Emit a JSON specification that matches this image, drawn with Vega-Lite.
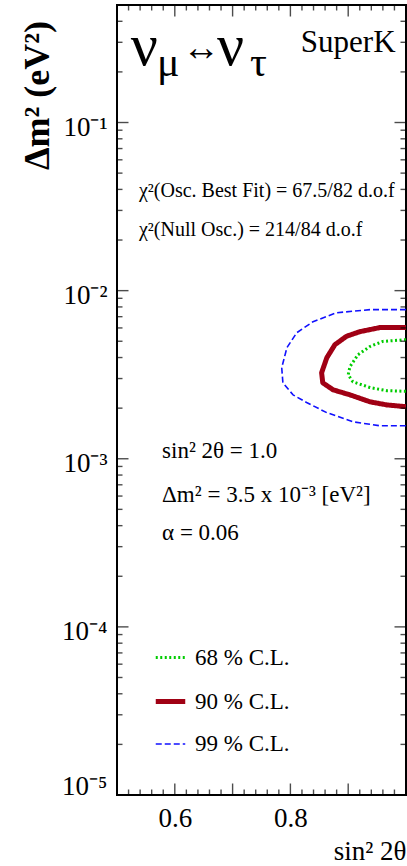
{
  "$schema": "https://vega.github.io/schema/vega-lite/v6.json",
  "width": 289,
  "height": 790,
  "autosize": {"type": "none"},
  "padding": {"left": 117, "top": 5, "right": 1, "bottom": 71},
  "config": {
    "view": {"stroke": "black", "strokeWidth": 2}
  },
  "datasets": {
    "xt": [
      {"s": 0.6, "kind": "major"}, {"s": 0.7, "kind": "major"}, {"s": 0.8, "kind": "major"}, {"s": 0.9, "kind": "major"},
      {"s": 0.52, "kind": "minor"}, {"s": 0.54, "kind": "minor"}, {"s": 0.56, "kind": "minor"}, {"s": 0.58, "kind": "minor"},
      {"s": 0.62, "kind": "minor"}, {"s": 0.64, "kind": "minor"}, {"s": 0.66, "kind": "minor"}, {"s": 0.68, "kind": "minor"},
      {"s": 0.72, "kind": "minor"}, {"s": 0.74, "kind": "minor"}, {"s": 0.76, "kind": "minor"}, {"s": 0.78, "kind": "minor"},
      {"s": 0.82, "kind": "minor"}, {"s": 0.84, "kind": "minor"}, {"s": 0.86, "kind": "minor"}, {"s": 0.88, "kind": "minor"},
      {"s": 0.92, "kind": "minor"}, {"s": 0.94, "kind": "minor"}, {"s": 0.96, "kind": "minor"}, {"s": 0.98, "kind": "minor"}
    ],
    "yt": [
      {"dm": 0.0001, "kind": "major"}, {"dm": 0.001, "kind": "major"}, {"dm": 0.01, "kind": "major"}, {"dm": 0.1, "kind": "major"},
      {"dm": 0.00002, "kind": "minor"}, {"dm": 0.00003, "kind": "minor"}, {"dm": 0.00004, "kind": "minor"}, {"dm": 0.00005, "kind": "minor"},
      {"dm": 0.00006, "kind": "minor"}, {"dm": 0.00007, "kind": "minor"}, {"dm": 0.00008, "kind": "minor"}, {"dm": 0.00009, "kind": "minor"},
      {"dm": 0.0002, "kind": "minor"}, {"dm": 0.0003, "kind": "minor"}, {"dm": 0.0004, "kind": "minor"}, {"dm": 0.0005, "kind": "minor"},
      {"dm": 0.0006, "kind": "minor"}, {"dm": 0.0007, "kind": "minor"}, {"dm": 0.0008, "kind": "minor"}, {"dm": 0.0009, "kind": "minor"},
      {"dm": 0.002, "kind": "minor"}, {"dm": 0.003, "kind": "minor"}, {"dm": 0.004, "kind": "minor"}, {"dm": 0.005, "kind": "minor"},
      {"dm": 0.006, "kind": "minor"}, {"dm": 0.007, "kind": "minor"}, {"dm": 0.008, "kind": "minor"}, {"dm": 0.009, "kind": "minor"},
      {"dm": 0.02, "kind": "minor"}, {"dm": 0.03, "kind": "minor"}, {"dm": 0.04, "kind": "minor"}, {"dm": 0.05, "kind": "minor"},
      {"dm": 0.06, "kind": "minor"}, {"dm": 0.07, "kind": "minor"}, {"dm": 0.08, "kind": "minor"}, {"dm": 0.09, "kind": "minor"},
      {"dm": 0.2, "kind": "minor"}, {"dm": 0.3, "kind": "minor"}, {"dm": 0.4, "kind": "minor"}
    ]
  },
  "layer": [
    {
      "data": {"values": [
        {"cl": "99 % C.L.", "i": 1, "s": 1.0, "dm": 0.00771},
        {"cl": "99 % C.L.", "i": 2, "s": 0.938, "dm": 0.00771},
        {"cl": "99 % C.L.", "i": 3, "s": 0.880, "dm": 0.00739},
        {"cl": "99 % C.L.", "i": 4, "s": 0.839, "dm": 0.00653},
        {"cl": "99 % C.L.", "i": 5, "s": 0.811, "dm": 0.00562},
        {"cl": "99 % C.L.", "i": 6, "s": 0.794, "dm": 0.00458},
        {"cl": "99 % C.L.", "i": 7, "s": 0.785, "dm": 0.00348},
        {"cl": "99 % C.L.", "i": 8, "s": 0.787, "dm": 0.00283},
        {"cl": "99 % C.L.", "i": 9, "s": 0.8045, "dm": 0.00240},
        {"cl": "99 % C.L.", "i": 10, "s": 0.828, "dm": 0.00216},
        {"cl": "99 % C.L.", "i": 11, "s": 0.863, "dm": 0.00188},
        {"cl": "99 % C.L.", "i": 12, "s": 0.908, "dm": 0.00166},
        {"cl": "99 % C.L.", "i": 13, "s": 0.955, "dm": 0.00157},
        {"cl": "99 % C.L.", "i": 14, "s": 1.0, "dm": 0.00157},
        {"cl": "90 % C.L.", "i": 1, "s": 1.0, "dm": 0.00603},
        {"cl": "90 % C.L.", "i": 2, "s": 0.955, "dm": 0.00603},
        {"cl": "90 % C.L.", "i": 3, "s": 0.920, "dm": 0.00570},
        {"cl": "90 % C.L.", "i": 4, "s": 0.897, "dm": 0.00535},
        {"cl": "90 % C.L.", "i": 5, "s": 0.877, "dm": 0.00477},
        {"cl": "90 % C.L.", "i": 6, "s": 0.863, "dm": 0.00399},
        {"cl": "90 % C.L.", "i": 7, "s": 0.854, "dm": 0.00325},
        {"cl": "90 % C.L.", "i": 8, "s": 0.856, "dm": 0.00283},
        {"cl": "90 % C.L.", "i": 9, "s": 0.874, "dm": 0.00257},
        {"cl": "90 % C.L.", "i": 10, "s": 0.903, "dm": 0.00240},
        {"cl": "90 % C.L.", "i": 11, "s": 0.938, "dm": 0.00218},
        {"cl": "90 % C.L.", "i": 12, "s": 0.967, "dm": 0.00209},
        {"cl": "90 % C.L.", "i": 13, "s": 1.0, "dm": 0.00204},
        {"cl": "68 % C.L.", "i": 1, "s": 1.0, "dm": 0.00511},
        {"cl": "68 % C.L.", "i": 2, "s": 0.960, "dm": 0.00499},
        {"cl": "68 % C.L.", "i": 3, "s": 0.938, "dm": 0.00466},
        {"cl": "68 % C.L.", "i": 4, "s": 0.917, "dm": 0.00416},
        {"cl": "68 % C.L.", "i": 5, "s": 0.903, "dm": 0.00353},
        {"cl": "68 % C.L.", "i": 6, "s": 0.900, "dm": 0.00316},
        {"cl": "68 % C.L.", "i": 7, "s": 0.908, "dm": 0.00287},
        {"cl": "68 % C.L.", "i": 8, "s": 0.938, "dm": 0.00265},
        {"cl": "68 % C.L.", "i": 9, "s": 0.967, "dm": 0.00254},
        {"cl": "68 % C.L.", "i": 10, "s": 1.0, "dm": 0.00252}
      ]},
      "mark": {"type": "line", "clip": true, "strokeCap": "butt", "strokeJoin": "round"},
      "encoding": {
        "x": {"field": "s", "type": "quantitative",
          "scale": {"domain": [0.5, 1.0], "nice": false, "zero": false},
          "axis": {"orient": "bottom", "values": [0.6, 0.8], "ticks": true, "tickSize": 0, "tickOpacity": 0, "domain": false, "grid": false, "labelFont": "Liberation Serif", "labelColor": "black", "labelFontSize": 27, "labelPadding": 10, "labelExpr": "format(datum.value, '.1f')",
            "title": "sin² 2θ", "titleFont": "Liberation Serif", "titleColor": "black", "titleFontSize": 27, "titleFontWeight": "normal", "titleAnchor": "end", "titleAlign": "right", "titleX": 289, "titleY": 64, "titleBaseline": "alphabetic"}},
        "y": {"field": "dm", "type": "quantitative",
          "scale": {"type": "log", "domain": [0.00001, 0.5], "nice": false},
          "axis": {"orient": "left", "values": [0.00001, 0.0001, 0.001, 0.01, 0.1], "ticks": true, "tickSize": 0, "tickOpacity": 0, "domain": false, "grid": false, "labelFont": "Liberation Serif", "labelColor": "black", "labelFontSize": 27, "labelPadding": 10, "labelOffset": 5, "labelFlush": true,
            "labelExpr": "datum.value < 0.00005 ? '10⁻⁵' : datum.value < 0.0005 ? '10⁻⁴' : datum.value < 0.005 ? '10⁻³' : datum.value < 0.05 ? '10⁻²' : '10⁻¹'",
            "title": "Δm²   (eV²)", "titleFont": "Liberation Serif", "titleColor": "black", "titleFontSize": 36, "titleFontWeight": "bold", "titleAngle": -90, "titleAlign": "center", "titleBaseline": "alphabetic", "titleX": -69, "titleY": 90}},
        "color": {"field": "cl", "type": "nominal",
          "scale": {"domain": ["68 % C.L.", "90 % C.L.", "99 % C.L."], "range": ["#00cc00", "#a00014", "#1010ff"]},
          "legend": {"orient": "none", "legendX": 36, "legendY": 636, "title": null, "symbolType": "stroke", "symbolSize": 870, "labelFont": "Liberation Serif", "labelFontSize": 23, "labelColor": "black", "labelOffset": 7, "rowPadding": 14, "padding": 0}},
        "strokeDash": {"field": "cl", "type": "nominal",
          "scale": {"domain": ["68 % C.L.", "90 % C.L.", "99 % C.L."], "range": [[2, 2.5], [1, 0], [6, 3]]},
          "legend": {"orient": "none", "legendX": 36, "legendY": 636, "title": null, "symbolType": "stroke", "symbolSize": 870, "labelFont": "Liberation Serif", "labelFontSize": 23, "labelColor": "black", "labelOffset": 7, "rowPadding": 14, "padding": 0}},
        "strokeWidth": {"field": "cl", "type": "nominal",
          "scale": {"type": "ordinal", "domain": ["68 % C.L.", "90 % C.L.", "99 % C.L."], "range": [3, 5, 1.6]},
          "legend": {"orient": "none", "legendX": 36, "legendY": 636, "title": null, "symbolType": "stroke", "symbolSize": 870, "labelFont": "Liberation Serif", "labelFontSize": 23, "labelColor": "black", "labelOffset": 7, "rowPadding": 14, "padding": 0}},
        "order": {"field": "i", "type": "quantitative"}
      }
    },
    {
      "data": {"name": "xt"},
      "mark": {"type": "tick", "orient": "vertical", "clip": true, "color": "black", "thickness": 1.4},
      "encoding": {
        "x": {"field": "s", "type": "quantitative", "scale": {"domain": [0.5, 1.0], "nice": false, "zero": false}},
        "y": {"datum": 0.00001, "type": "quantitative", "scale": {"type": "log", "domain": [0.00001, 0.5], "nice": false}},
        "size": {"field": "kind", "type": "nominal", "scale": {"type": "ordinal", "domain": ["major", "minor"], "range": [23, 11]}, "legend": null}
      }
    },
    {
      "data": {"name": "xt"},
      "mark": {"type": "tick", "orient": "vertical", "clip": true, "color": "black", "thickness": 1.4},
      "encoding": {
        "x": {"field": "s", "type": "quantitative", "scale": {"domain": [0.5, 1.0], "nice": false, "zero": false}},
        "y": {"datum": 0.5, "type": "quantitative", "scale": {"type": "log", "domain": [0.00001, 0.5], "nice": false}},
        "size": {"field": "kind", "type": "nominal", "scale": {"type": "ordinal", "domain": ["major", "minor"], "range": [23, 11]}, "legend": null}
      }
    },
    {
      "data": {"name": "yt"},
      "mark": {"type": "tick", "orient": "horizontal", "clip": true, "color": "black", "thickness": 1.4},
      "encoding": {
        "x": {"datum": 0.5, "type": "quantitative", "scale": {"domain": [0.5, 1.0], "nice": false, "zero": false}},
        "y": {"field": "dm", "type": "quantitative", "scale": {"type": "log", "domain": [0.00001, 0.5], "nice": false}},
        "size": {"field": "kind", "type": "nominal", "scale": {"type": "ordinal", "domain": ["major", "minor"], "range": [23, 11]}, "legend": null}
      }
    },
    {
      "data": {"name": "yt"},
      "mark": {"type": "tick", "orient": "horizontal", "clip": true, "color": "black", "thickness": 1.4},
      "encoding": {
        "x": {"datum": 1.0, "type": "quantitative", "scale": {"domain": [0.5, 1.0], "nice": false, "zero": false}},
        "y": {"field": "dm", "type": "quantitative", "scale": {"type": "log", "domain": [0.00001, 0.5], "nice": false}},
        "size": {"field": "kind", "type": "nominal", "scale": {"type": "ordinal", "domain": ["major", "minor"], "range": [23, 11]}, "legend": null}
      }
    },
    {
      "data": {"values": [
        {"s": 0.524, "dm": 0.2213, "t": "ν"},
        {"s": 0.673, "dm": 0.2213, "t": "ν"}
      ]},
      "mark": {"type": "text", "align": "left", "baseline": "alphabetic", "fontSize": 60, "font": "Liberation Serif", "color": "black"},
      "encoding": {
        "x": {"field": "s", "type": "quantitative", "scale": {"domain": [0.5, 1.0], "nice": false, "zero": false}},
        "y": {"field": "dm", "type": "quantitative", "scale": {"type": "log", "domain": [0.00001, 0.5], "nice": false}},
        "text": {"field": "t"}
      }
    },
    {
      "data": {"values": [
        {"s": 0.5692, "dm": 0.188, "t": "μ"},
        {"s": 0.7300, "dm": 0.188, "t": "τ"}
      ]},
      "mark": {"type": "text", "align": "left", "baseline": "alphabetic", "fontSize": 42, "font": "Liberation Serif", "color": "black"},
      "encoding": {
        "x": {"field": "s", "type": "quantitative", "scale": {"domain": [0.5, 1.0], "nice": false, "zero": false}},
        "y": {"field": "dm", "type": "quantitative", "scale": {"type": "log", "domain": [0.00001, 0.5], "nice": false}},
        "text": {"field": "t"}
      }
    },
    {
      "data": {"values": [
        {"s": 0.6125, "dm": 0.2719, "t": "↔"}
      ]},
      "mark": {"type": "text", "align": "left", "baseline": "middle", "fontSize": 38, "font": "Liberation Serif", "color": "black"},
      "encoding": {
        "x": {"field": "s", "type": "quantitative", "scale": {"domain": [0.5, 1.0], "nice": false, "zero": false}},
        "y": {"field": "dm", "type": "quantitative", "scale": {"type": "log", "domain": [0.00001, 0.5], "nice": false}},
        "text": {"field": "t"}
      }
    },
    {
      "data": {"values": [
        {"s": 0.818, "dm": 0.261, "t": "SuperK"}
      ]},
      "mark": {"type": "text", "align": "left", "baseline": "alphabetic", "fontSize": 31, "font": "Liberation Serif", "color": "black"},
      "encoding": {
        "x": {"field": "s", "type": "quantitative", "scale": {"domain": [0.5, 1.0], "nice": false, "zero": false}},
        "y": {"field": "dm", "type": "quantitative", "scale": {"type": "log", "domain": [0.00001, 0.5], "nice": false}},
        "text": {"field": "t"}
      }
    },
    {
      "data": {"values": [
        {"s": 0.538, "dm": 0.03626, "t": "χ²(Osc. Best Fit) = 67.5/82 d.o.f"},
        {"s": 0.538, "dm": 0.02125, "t": "χ²(Null Osc.) = 214/84 d.o.f"}
      ]},
      "mark": {"type": "text", "align": "left", "baseline": "alphabetic", "fontSize": 20, "font": "Liberation Serif", "color": "black"},
      "encoding": {
        "x": {"field": "s", "type": "quantitative", "scale": {"domain": [0.5, 1.0], "nice": false, "zero": false}},
        "y": {"field": "dm", "type": "quantitative", "scale": {"type": "log", "domain": [0.00001, 0.5], "nice": false}},
        "text": {"field": "t"}
      }
    },
    {
      "data": {"values": [
        {"s": 0.578, "dm": 0.001014, "t": "sin² 2θ  = 1.0"},
        {"s": 0.578, "dm": 0.0005545, "t": "Δm² = 3.5 x 10⁻³ [eV²]"},
        {"s": 0.578, "dm": 0.0003296, "t": "α = 0.06"}
      ]},
      "mark": {"type": "text", "align": "left", "baseline": "alphabetic", "fontSize": 23, "font": "Liberation Serif", "color": "black"},
      "encoding": {
        "x": {"field": "s", "type": "quantitative", "scale": {"domain": [0.5, 1.0], "nice": false, "zero": false}},
        "y": {"field": "dm", "type": "quantitative", "scale": {"type": "log", "domain": [0.00001, 0.5], "nice": false}},
        "text": {"field": "t"}
      }
    }
  ]
}
